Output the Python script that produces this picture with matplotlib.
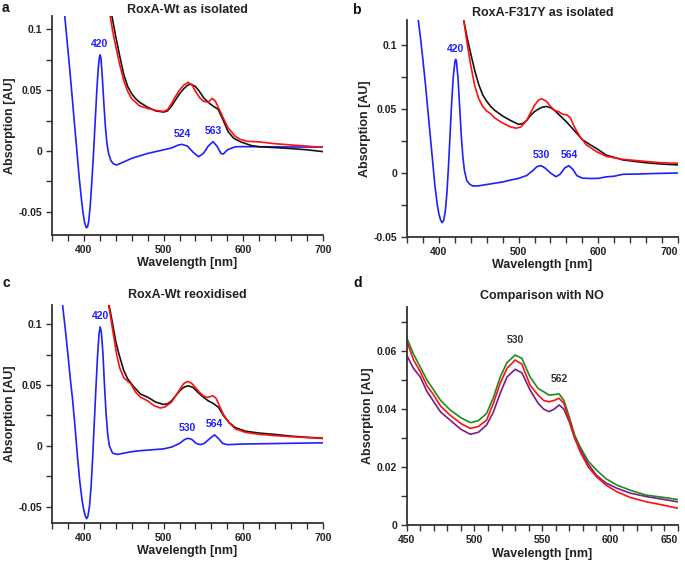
import matplotlib
matplotlib.use("Agg")
import matplotlib.pyplot as plt
from matplotlib.ticker import MultipleLocator

plt.rcParams['font.family'] = ['Liberation Sans', 'DejaVu Sans']

# ---- data (wavelength nm, absorption AU) ----
# panel a: RoxA-Wt as isolated
a_blue_nm = [370, 376, 379, 382, 385, 388, 391, 394, 397, 399, 401, 403, 404.5, 406, 408, 410, 412, 414,
             416, 418, 419.5, 420.5, 421.5, 423, 425, 427, 429, 431, 434, 437, 441, 450, 460, 470, 480,
             490, 500, 510, 518, 523, 530, 537, 544, 550, 556, 562, 567, 572, 575, 580, 590, 600, 650, 700]
a_blue_abs = [0.15, 0.111, 0.090, 0.069, 0.047, 0.024, 0.002, -0.021, -0.040, -0.051, -0.059, -0.063,
              -0.0625, -0.058, -0.045, -0.025, -0.003, 0.022, 0.047, 0.068, 0.077, 0.079, 0.076, 0.062,
              0.040, 0.020, 0.006, -0.002, -0.008, -0.0105, -0.0115, -0.009, -0.006, -0.004, -0.002,
              -0.0005, 0.001, 0.0025, 0.0048, 0.0055, 0.004, -0.001, -0.0047, -0.002, 0.004, 0.0077,
              0.004, -0.002, -0.0025, 0.001, 0.0035, 0.0036, 0.0034, 0.0032]
a_black_nm = [434, 440, 445, 450, 455, 460, 465, 470, 480, 490, 500, 505, 510, 515, 520, 525, 530, 534,
              540, 545, 550, 556, 562, 568.5, 575, 581, 588, 596, 610, 620, 640, 660, 680, 700]
a_black_abs = [0.115, 0.094, 0.078, 0.063, 0.053, 0.047, 0.043, 0.040, 0.036, 0.033, 0.032, 0.033,
               0.037, 0.042, 0.047, 0.051, 0.054, 0.055, 0.053, 0.049, 0.044, 0.040, 0.037, 0.0343,
               0.025, 0.0159, 0.0105, 0.0077, 0.0045, 0.0035, 0.0028, 0.002, 0.001, -0.0005]
a_red_nm = [432, 436, 440, 445, 450, 455, 460, 465, 470, 480, 490, 500, 505, 510, 515, 520, 525, 531,
            536, 540, 545, 550, 556, 561, 565, 570, 575, 581, 590, 596, 605, 620, 640, 660, 680, 700]
a_red_abs = [0.115, 0.099, 0.086, 0.071, 0.058, 0.049, 0.043, 0.040, 0.037, 0.035, 0.0335, 0.0325,
             0.034, 0.039, 0.045, 0.050, 0.054, 0.0565, 0.054, 0.049, 0.044, 0.041, 0.040, 0.0433,
             0.041, 0.034, 0.027, 0.019, 0.012, 0.0096, 0.008, 0.0075, 0.006, 0.005, 0.004, 0.003]

# panel b: RoxA-F317Y as isolated
b_blue_nm = [371, 374, 377, 380, 383, 386, 389, 392, 395, 398, 400, 402, 404, 406, 408, 410, 412, 414,
             416, 418, 420, 421, 422, 424, 426, 428, 430, 432, 435, 439, 443, 450, 460, 470, 480, 490,
             500, 510, 518, 523, 528, 533, 540, 547, 552, 558, 563, 568, 573, 580, 590, 600, 610, 620,
             631, 650, 670, 700]
b_blue_abs = [0.14, 0.12, 0.105, 0.088, 0.070, 0.050, 0.030, 0.010, -0.010, -0.025, -0.032, -0.0365,
              -0.0388, -0.037, -0.030, -0.016, 0.005, 0.030, 0.055, 0.075, 0.0865, 0.0888, 0.087,
              0.074, 0.052, 0.030, 0.013, 0.002, -0.006, -0.009, -0.0102, -0.010, -0.009, -0.008,
              -0.007, -0.0055, -0.0042, -0.002, 0.002, 0.005, 0.0057, 0.004, 0.0, -0.0029, -0.001,
              0.004, 0.0057, 0.003, -0.002, -0.004, -0.0043, -0.0042, -0.003, -0.0025, -0.001,
              -0.0008, -0.0004, 0.0]
b_black_nm = [431, 435, 440, 445, 450, 455, 460, 465, 470, 480, 490, 500, 505, 510, 515, 520, 525, 530,
              535, 540, 545, 550, 560, 573, 580, 590, 598, 610, 631, 660, 680, 700]
b_black_abs = [0.12, 0.107, 0.093, 0.080, 0.069, 0.061, 0.056, 0.052, 0.049, 0.0445, 0.041, 0.038,
               0.0385, 0.041, 0.045, 0.048, 0.050, 0.0515, 0.052, 0.051, 0.049, 0.046, 0.040, 0.031,
               0.026, 0.022, 0.019, 0.014, 0.0102, 0.008, 0.007, 0.0063]
b_red_nm = [431, 435, 440, 445, 450, 455, 460, 465, 470, 480, 490, 497, 503, 510, 515, 520, 525, 529,
            535, 540, 545, 550, 555, 561, 565, 570, 577, 585, 598, 610, 631, 660, 680, 700]
b_red_abs = [0.12, 0.103, 0.084, 0.068, 0.058, 0.052, 0.0485, 0.0462, 0.043, 0.039, 0.036, 0.035,
             0.036, 0.041, 0.047, 0.053, 0.057, 0.058, 0.056, 0.052, 0.049, 0.048, 0.046, 0.0453,
             0.043, 0.036, 0.0284, 0.022, 0.0166, 0.013, 0.0107, 0.009, 0.008, 0.0076]

# panel c: RoxA-Wt reoxidised
c_blue_nm = [370, 373.4, 377, 380, 383, 386, 389, 392, 395, 398, 400, 402, 403.5, 405, 407, 409, 411,
             413, 415, 417, 419, 420.5, 422, 424, 426, 428, 430, 432, 436, 442, 450, 460, 470, 480, 490,
             500, 510, 520, 526, 530, 535, 541, 546, 551, 558, 564, 569, 574, 580, 600, 650, 700]
c_blue_abs = [0.14, 0.115, 0.094, 0.075, 0.055, 0.037, 0.015, -0.009, -0.030, -0.046, -0.053, -0.058,
              -0.0598, -0.058, -0.050, -0.034, -0.010, 0.018, 0.046, 0.072, 0.092, 0.0978, 0.093,
              0.075, 0.048, 0.025, 0.009, 0.0, -0.006, -0.0071, -0.006, -0.0048, -0.004, -0.0035,
              -0.003, -0.0025, -0.001, 0.002, 0.005, 0.0062, 0.0055, 0.002, 0.001, 0.002, 0.006,
              0.009, 0.006, 0.002, 0.001, 0.0015, 0.002, 0.0025]
c_black_nm = [431.5, 435, 440, 444, 450, 455, 462, 471, 480, 490, 500, 505, 510, 515, 520, 525, 531,
              537, 543, 550, 556, 562, 569, 575, 582, 590, 603, 620, 638, 660, 680, 700]
c_black_abs = [0.116, 0.104, 0.086, 0.0754, 0.062, 0.055, 0.049, 0.0426, 0.040, 0.036, 0.034, 0.0345,
               0.037, 0.041, 0.045, 0.048, 0.0494, 0.048, 0.044, 0.040, 0.037, 0.035, 0.0316, 0.025,
               0.0193, 0.015, 0.012, 0.0105, 0.0095, 0.008, 0.007, 0.0063]
c_red_nm = [431, 435, 441, 445, 450, 459, 465, 471, 480, 488, 496, 502, 510, 515, 520, 525, 530, 535,
            540, 545, 550, 555, 562, 566, 570, 575, 582, 590, 603, 620, 638, 660, 680, 700]
c_red_abs = [0.116, 0.100, 0.0754, 0.064, 0.056, 0.0508, 0.044, 0.040, 0.037, 0.033, 0.0311, 0.032,
             0.036, 0.041, 0.046, 0.051, 0.053, 0.0515, 0.048, 0.044, 0.041, 0.0398, 0.0412, 0.039,
             0.033, 0.026, 0.019, 0.014, 0.011, 0.0095, 0.0085, 0.0075, 0.0068, 0.006]

# panel d: comparison with NO
d_nm = [450, 455, 460, 465, 470, 475, 482, 490, 497, 503, 509, 514, 519, 524, 530, 535, 541, 547, 551,
        555, 559, 562.5, 566, 570, 574, 578, 584, 590, 597, 605, 615, 627, 640, 650]
d_green = [0.0646, 0.059, 0.0545, 0.050, 0.0465, 0.043, 0.0397, 0.037, 0.0353, 0.036, 0.0385, 0.044,
           0.051, 0.056, 0.0586, 0.0575, 0.0511, 0.0471, 0.046, 0.0448, 0.045, 0.0452, 0.043, 0.0373,
           0.031, 0.027, 0.022, 0.019, 0.016, 0.0138, 0.012, 0.0103, 0.0095, 0.0088]
d_red = [0.0635, 0.057, 0.0529, 0.048, 0.0448, 0.041, 0.0379, 0.035, 0.0333, 0.034, 0.0362, 0.042,
         0.0489, 0.054, 0.0569, 0.0555, 0.0483, 0.0448, 0.043, 0.0425, 0.043, 0.0437, 0.042, 0.0362,
         0.030, 0.0253, 0.020, 0.0167, 0.0138, 0.0115, 0.0095, 0.008, 0.0068, 0.0058]
d_purple = [0.0586, 0.054, 0.0511, 0.046, 0.0425, 0.039, 0.0362, 0.033, 0.0313, 0.032, 0.0345, 0.039,
            0.0454, 0.051, 0.0537, 0.0525, 0.0466, 0.042, 0.040, 0.0391, 0.040, 0.0414, 0.040, 0.0356,
            0.030, 0.026, 0.021, 0.0172, 0.0145, 0.0127, 0.011, 0.0098, 0.0088, 0.008]

a_peaks = [(420, 0.079, "420"), (523, 0.0055, "524"), (562, 0.0077, "563")]
b_peaks = [(421, 0.0888, "420"), (528, 0.0057, "530"), (564, 0.0057, "564")]
c_peaks = [(420.5, 0.0978, "420"), (530, 0.0062, "530"), (564, 0.009, "564")]
d_peaks = [(530, 0.0586, "530"), (562.5, 0.0452, "562")]

BLUE = '#1f1fff'
RED = '#ff1010'
BLACK = '#141414'
GREEN = '#1e8a1e'
PURPLE = '#7d1b86'
AXC = '#333333'

fig = plt.figure(figsize=(6.85, 5.62), dpi=100)


def style(ax, xlim, ylim, yt, ytl, xt, xminor, yminor, last_right=False):
    ax.set_xlim(*xlim)
    ax.set_ylim(*ylim)
    for s in ['top', 'right']:
        ax.spines[s].set_visible(False)
    for s in ['left', 'bottom']:
        ax.spines[s].set_color(AXC)
        ax.spines[s].set_linewidth(1.3)
    ax.set_yticks(yt)
    ax.set_yticklabels(ytl)
    ax.set_xticks(xt)
    ax.set_xticklabels([str(v) for v in xt])
    ax.xaxis.set_minor_locator(MultipleLocator(xminor))
    ax.yaxis.set_minor_locator(MultipleLocator(yminor))
    ax.tick_params(which='both', direction='out', length=4, width=1, color=AXC,
                   labelsize=7.5, labelcolor='#222222', pad=3)
    for lab in ax.get_xticklabels() + ax.get_yticklabels():
        lab.set_fontweight('bold')
    if last_right:
        ax.get_xticklabels()[-1].set_horizontalalignment('right')
    ax.set_xlabel("Wavelength [nm]", fontsize=9, fontweight='bold', color='#222222', labelpad=2)
    ax.set_ylabel("Absorption [AU]", fontsize=9, fontweight='bold', color='#222222', labelpad=2)
    ax.patch.set_alpha(0)


def label_peaks(ax, peaks, color, dy, weight='bold'):
    for x, y, t in peaks:
        ax.annotate(t, (x, y), xytext=(0, dy), textcoords='offset points', ha='center',
                    va='bottom', fontsize=7.5, fontweight=weight, color=color)


lw = 1.2

# a
ax = fig.add_axes([0.0759, 0.5819, 0.3956, 0.3897])
ax.plot(a_blue_nm, a_blue_abs, color=BLUE, lw=lw)
ax.plot(a_black_nm, a_black_abs, color=BLACK, lw=lw)
ax.plot(a_red_nm, a_red_abs, color=RED, lw=lw)
style(ax, (360, 700), (-0.069, 0.111), [-0.05, 0, 0.05, 0.1], ['-0.05', '0', '0.05', '0.1'],
      [400, 500, 600, 700], 20, 0.025)
label_peaks(ax, a_peaks, BLUE, 4)
ax.set_title("RoxA-Wt as isolated", fontsize=9, fontweight='bold', color='#222222', pad=2)

# b
ax = fig.add_axes([0.5942, 0.5783, 0.3956, 0.386])
ax.plot(b_blue_nm, b_blue_abs, color=BLUE, lw=lw)
ax.plot(b_black_nm, b_black_abs, color=BLACK, lw=lw)
ax.plot(b_red_nm, b_red_abs, color=RED, lw=lw)
style(ax, (360, 700), (-0.05, 0.1195), [-0.05, 0, 0.05, 0.1], ['-0.05', '0', '0.05', '0.1'],
      [400, 500, 600, 700], 20, 0.025, last_right=True)
label_peaks(ax, b_peaks, BLUE, 4)
ax.set_title("RoxA-F317Y as isolated", fontsize=9, fontweight='bold', color='#222222', pad=3)

# c
ax = fig.add_axes([0.0759, 0.0694, 0.3956, 0.388])
ax.plot(c_blue_nm, c_blue_abs, color=BLUE, lw=lw)
ax.plot(c_black_nm, c_black_abs, color=BLACK, lw=lw)
ax.plot(c_red_nm, c_red_abs, color=RED, lw=lw)
style(ax, (360, 700), (-0.0634, 0.1158), [-0.05, 0, 0.05, 0.1], ['-0.05', '0', '0.05', '0.1'],
      [400, 500, 600, 700], 20, 0.025)
label_peaks(ax, c_peaks, BLUE, 4)
ax.set_title("RoxA-Wt reoxidised", fontsize=9, fontweight='bold', color='#222222', pad=5)

# d
ax = fig.add_axes([0.5937, 0.0658, 0.3956, 0.388])
ax.axhline(0, color='#3b3bd0', lw=1.0)
ax.plot(d_nm, d_green, color=GREEN, lw=lw)
ax.plot(d_nm, d_purple, color=PURPLE, lw=lw)
ax.plot(d_nm, d_red, color=RED, lw=lw)
style(ax, (450, 650), (0, 0.0752), [0, 0.02, 0.04, 0.06], ['0', '0.02', '0.04', '0.06'],
      [450, 500, 550, 600, 650], 10, 0.01, last_right=True)
label_peaks(ax, d_peaks, '#333333', 7, weight='semibold')
ax.set_title("Comparison with NO", fontsize=9, fontweight='bold', color='#222222', pad=6)

# panel letters
for x, y, t in [(0.003, 0.978, 'a'), (0.514, 0.975, 'b'), (0.003, 0.49, 'c'), (0.516, 0.49, 'd')]:
    fig.text(x, y, t, fontsize=10, fontweight='bold', color='#111111', va='baseline')

fig.savefig("out.png", dpi=100)
